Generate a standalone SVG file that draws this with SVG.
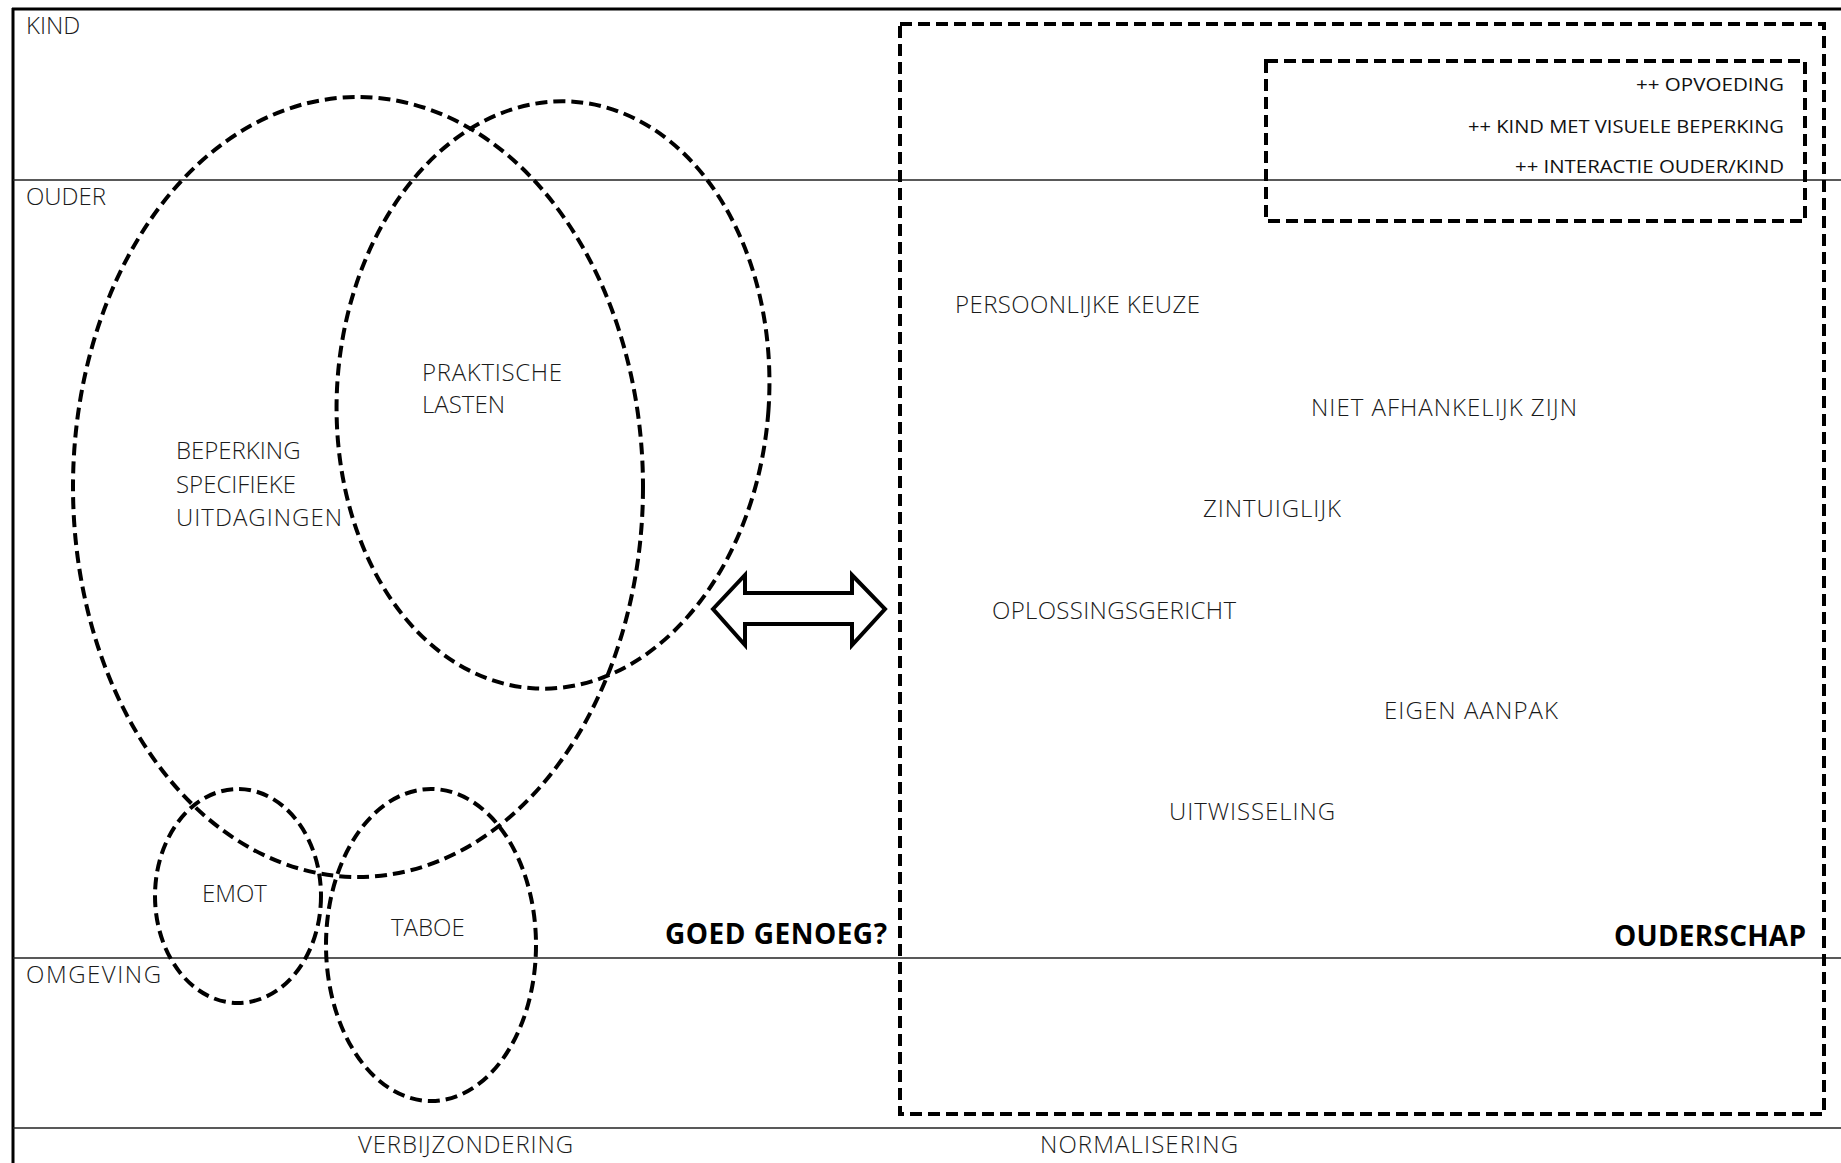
<svg xmlns="http://www.w3.org/2000/svg" width="1841" height="1163" viewBox="0 0 1841 1163">
<style>
.lbl{font-family:"Open Sans","Liberation Sans",sans-serif;font-weight:300;font-size:24px;fill:#1a1a1a}
.sm{font-family:"Open Sans","Liberation Sans",sans-serif;font-weight:400;font-size:19px;fill:#111}
.bold{font-family:"Open Sans","Liberation Sans",sans-serif;font-weight:700;font-size:28px;fill:#000}
.dash{fill:none;stroke:#000;stroke-width:4;stroke-dasharray:12 6}
.rule{stroke:#222;stroke-width:1.6;fill:none}
</style>
<rect width="1841" height="1163" fill="#fff"/>
<g id="frame">
<line x1="12" y1="9" x2="1841" y2="9" stroke="#000" stroke-width="3"/>
<line x1="13" y1="8" x2="13" y2="1163" stroke="#000" stroke-width="3"/>
<line class="rule" x1="13" y1="180" x2="1841" y2="180"/>
<line class="rule" x1="13" y1="958" x2="1841" y2="958"/>
<line class="rule" x1="13" y1="1128" x2="1841" y2="1128"/>
<text class="lbl" x="26" y="34">KIND</text>
<text class="lbl" x="26" y="205">OUDER</text>
<text class="lbl" x="26" y="983" textLength="135">OMGEVING</text>
<text class="lbl" x="358" y="1153" textLength="215">VERBIJZONDERING</text>
<text class="lbl" x="1040" y="1153" textLength="198">NORMALISERING</text>
</g>
<g id="beperking">
<ellipse class="dash" cx="358" cy="487" rx="285" ry="390"/>
<text class="lbl" x="176" y="459">BEPERKING</text>
<text class="lbl" x="176" y="493">SPECIFIEKE</text>
<text class="lbl" x="176" y="526" textLength="166">UITDAGINGEN</text>
</g>
<g id="praktische">
<ellipse class="dash" cx="0" cy="0" rx="216" ry="294" transform="translate(553 395) rotate(4)"/>
<text class="lbl" x="422" y="381" textLength="140">PRAKTISCHE</text>
<text class="lbl" x="422" y="413">LASTEN</text>
</g>
<g id="emot">
<ellipse class="dash" cx="238" cy="896" rx="83" ry="107"/>
<text class="lbl" x="202" y="902">EMOT</text>
</g>
<g id="taboe">
<ellipse class="dash" cx="431" cy="945" rx="105" ry="156"/>
<text class="lbl" x="391" y="936">TABOE</text>
</g>
<g id="goed-genoeg">
<text class="bold" x="665" y="944" textLength="222">GOED GENOEG?</text>
</g>
<g id="connectors">
<path d="M713 609 L745 575 L745 593 L852 593 L852 575 L885 609 L852 645 L852 624 L745 624 L745 645 Z" fill="#fff" stroke="#000" stroke-width="4" stroke-linejoin="miter"/>
</g>
<g id="ouderschap">
<rect class="dash" x="900" y="24" width="924" height="1090"/>
<text class="lbl" x="955" y="313" textLength="245">PERSOONLIJKE KEUZE</text>
<text class="lbl" x="1311" y="416" textLength="266">NIET AFHANKELIJK ZIJN</text>
<text class="lbl" x="1203" y="517" textLength="138">ZINTUIGLIJK</text>
<text class="lbl" x="992" y="619" textLength="244">OPLOSSINGSGERICHT</text>
<text class="lbl" x="1384" y="719" textLength="174">EIGEN AANPAK</text>
<text class="lbl" x="1169" y="820" textLength="166">UITWISSELING</text>
<text class="bold" x="1614" y="946" textLength="192">OUDERSCHAP</text>
</g>
<g id="kind-focus">
<rect class="dash" x="1266" y="61" width="539" height="160"/>
<text class="sm" x="1784" y="91" text-anchor="end" textLength="148" lengthAdjust="spacingAndGlyphs">++ OPVOEDING</text>
<text class="sm" x="1784" y="133" text-anchor="end" textLength="316" lengthAdjust="spacingAndGlyphs">++ KIND MET VISUELE BEPERKING</text>
<text class="sm" x="1784" y="173" text-anchor="end" textLength="269" lengthAdjust="spacingAndGlyphs">++ INTERACTIE OUDER/KIND</text>
</g>
</svg>
